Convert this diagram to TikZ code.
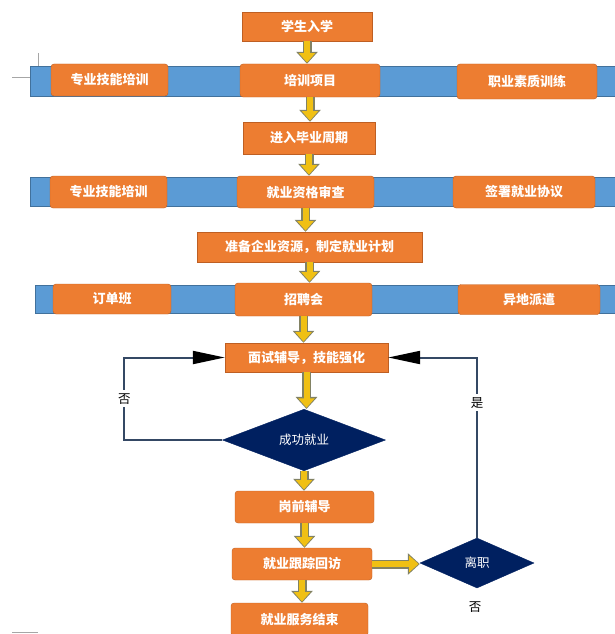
\documentclass[tikz,border=0pt]{standalone}
\usepackage{fontspec}
\setmainfont{Noto Sans CJK SC}
\usetikzlibrary{shapes.geometric,arrows.meta}
\definecolor{boxorange}{RGB}{237,125,49}
\definecolor{boxline}{RGB}{190,95,35}
\definecolor{bandblue}{RGB}{91,155,213}
\definecolor{bandline}{RGB}{65,113,156}
\definecolor{navy}{RGB}{0,32,96}
\definecolor{loopline}{RGB}{52,72,100}
\definecolor{arrowfill}{RGB}{240,192,20}
\definecolor{arrowline}{RGB}{130,130,100}
\begin{document}
\begin{tikzpicture}[x=1pt,y=-1pt,
  box/.style={draw=boxline,fill=boxorange,text=white,font=\fontsize{13}{15}\selectfont\bfseries,inner sep=0pt},
  band/.style={draw=bandline,fill=bandblue,inner sep=0pt},
  choice/.style={diamond,draw=navy,fill=navy,text=white,inner sep=0pt,font=\fontsize{12.5}{14}\selectfont},
  fat/.style={draw=arrowline,line width=9pt,-{Triangle[width=21pt,length=12pt]},
    postaction={draw=arrowfill,line width=6pt,-{Triangle[width=16pt,length=9.5pt]},shorten >=1.2pt}},
  back/.style={draw=loopline,line width=2pt,-{Triangle[length=32pt,width=13pt,color=black]}}
]
\useasboundingbox (0,0) rectangle (614,634);

% marques de page
\draw[gray!70] (38,53)--(38,67) (12,77)--(30,77) (12,632)--(38,632);

% bandes bleues
\node[band,minimum width=590pt,minimum height=30pt] (b1) at (325,81) {};
\node[band,minimum width=590pt,minimum height=29pt] (b2) at (325,191.5) {};
\node[band,minimum width=585pt,minimum height=28pt] (b3) at (327.5,299) {};

\node[box,minimum width=130pt,minimum height=29pt] (0) at (307,26.5) {学生入学};

\node[box,rounded corners=3pt,minimum width=140pt,minimum height=33pt] (1) at (310,80.5) {培训项目};
\node[box,rounded corners=3pt,minimum width=117pt,minimum height=32pt] (2) at (109.5,80) {专业技能培训};
\node[box,rounded corners=3pt,minimum width=140pt,minimum height=35pt] (3) at (527,81.5) {职业素质训练};

\node[box,minimum width=132pt,minimum height=32pt] (4) at (309,138) {进入毕业周期};

\node[box,rounded corners=3pt,minimum width=117pt,minimum height=32pt] (5) at (108.5,192) {专业技能培训};
\node[box,rounded corners=3pt,minimum width=137pt,minimum height=32pt] (6) at (305.5,192) {就业资格审查};
\node[box,rounded corners=3pt,minimum width=142pt,minimum height=32pt] (7) at (524,192) {签署就业协议};

\node[box,minimum width=225pt,minimum height=30pt] (8) at (309.5,247) {准备企业资源，制定就业计划};

\node[box,rounded corners=3pt,minimum width=118pt,minimum height=30pt] (9) at (112,299) {订单班};
\node[box,rounded corners=3pt,minimum width=137pt,minimum height=33pt] (10) at (303.5,299.5) {招聘会};
\node[box,rounded corners=3pt,minimum width=142pt,minimum height=30pt] (11) at (529,299.5) {异地派遣};

\node[box,minimum width=163pt,minimum height=29pt] (12) at (306.5,357.5) {面试辅导，技能强化};

\node[choice,minimum width=163pt,minimum height=57pt] (13) at (304,440) {成功就业};

\node[box,rounded corners=3pt,minimum width=139pt,minimum height=32pt] (14) at (304.5,507) {岗前辅导};
\node[box,rounded corners=3pt,minimum width=140pt,minimum height=32pt] (15) at (302,564) {就业跟踪回访};
\node[box,rounded corners=3pt,minimum width=137pt,minimum height=33pt] (16) at (299.5,619.5) {就业服务结束};

\node[choice,minimum width=114pt,minimum height=50pt] (17) at (477,563) {离职};
\node[font=\fontsize{12.5}{14}\selectfont] (18) at (475,607) {否};

\draw[fat] (0.south)--(0.south |- 1.north);
\draw[fat] (1.south)--(1.south |- 4.north);
\draw[fat] (4.south)--(4.south |- 6.north);
\draw[fat] (6.south)--(6.south |- 8.north);
\draw[fat] (8.south)--(8.south |- 10.north);
\draw[fat] (10.south)--(10.south |- 12.north);
\draw[fat] (12.south)--(12.south |- 13.north);
\draw[fat] (13.south)--(13.south |- 14.north);
\draw[fat] (14.south)--(14.south |- 15.north);
\draw[fat] (15.south)--(15.south |- 16.north);
\draw[fat] (15.east)--(15.east -| 17.west);

\draw[back] (13.west)--++(-98,0)|-(12.west)node[pos=0.25,fill=white,font=\fontsize{12.5}{14}\selectfont]{否};
\draw[back] (17.north)|-(12.east)node[pos=0.375,fill=white,font=\fontsize{12.5}{14}\selectfont]{是};

\end{tikzpicture}
\end{document}
